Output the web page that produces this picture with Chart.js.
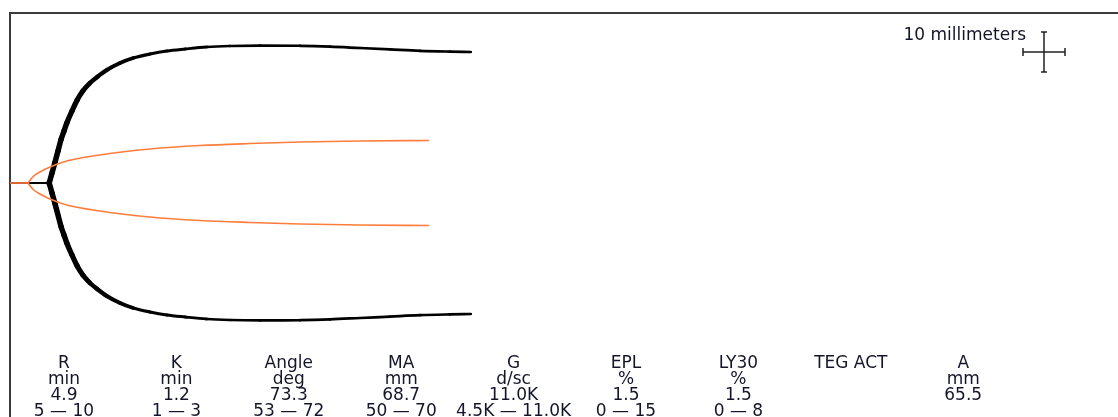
<!DOCTYPE html>
<html>
<head>
<meta charset="utf-8">
<title>TEG tracing</title>
<script src="https://cdn.jsdelivr.net/npm/chart.js@4/dist/chart.umd.min.js"></script>
<style>
  html, body { margin: 0; padding: 0; background: #fff; }
  #wrap { width: 1118px; height: 417px; }
</style>
</head>
<body>
<div id="wrap"><canvas id="teg" width="1118" height="417"></canvas></div>
<script>
// Kaolin sample tracing: time in minutes, amplitude in millimetres (full width)
const blackTime = [0, 4.9, 5.25, 5.6, 6.0, 6.4, 6.75, 7.1, 7.75, 8.4, 9.1, 10.0, 10.9, 12.1, 13.75, 15.4, 17.5, 19.6, 21.9, 24.6, 27.5, 31.25, 36.25, 40.0, 43.75, 47.5, 51.25, 55.0, 57.6];
const blackAmp  = [0, 0, 5, 10, 16, 22, 26, 30, 36, 41.5, 46, 50, 53, 56.5, 60, 62.5, 64.5, 66, 67, 68, 68.5, 68.7, 68.6, 68.2, 67.5, 66.8, 66.1, 65.7, 65.5];

// Second (reference) tracing
const orangeTime = [0, 2.25, 2.9, 3.75, 5.0, 7.1, 11.25, 17.5, 23.75, 30.0, 36.25, 43.75, 52.4];
const orangeAmp  = [0, 0, 3.25, 5.5, 8, 11, 14, 17, 18.75, 19.75, 20.5, 21, 21.25];

// Parameter table under the tracing
const paramNames  = ["R", "K", "Angle", "MA", "G", "EPL", "LY30", "TEG ACT", "A"];
const paramUnits  = ["min", "min", "deg", "mm", "d/sc", "%", "%", "", "mm"];
const paramValues = ["4.9", "1.2", "73.3", "68.7", "11.0K", "1.5", "1.5", "", "65.5"];
const paramRanges = ["5 \u2014 10", "1 \u2014 3", "53 \u2014 72", "50 \u2014 70", "4.5K \u2014 11.0K", "0 \u2014 15", "0 \u2014 8", "", ""];

const scaleLabel = "10 millimeters";
const scaleBarMm = 10;      // length of the calibration cross
const mmPerMinute = 2;      // chart speed

// points of one half of a tracing; `from`/`to` select the flat lead-in or the fork
function half(times, amps, sign, from, to) {
  return times.slice(from, to).map((t, i) => ({ x: t, y: sign * amps[from + i] / 2 }));
}

// Steep parts of the main trace are drawn heavier, like the recorder pen
function penWidth(ctx) {
  const dx = ctx.p1.x - ctx.p0.x, dy = ctx.p1.y - ctx.p0.y;
  const len = Math.hypot(dx, dy) || 1;
  return 2.6 + 3.0 * Math.abs(dy) / len;
}

const blackStyle = {
  borderColor: "#000000",
  borderWidth: 3,
  borderCapStyle: "round",
  borderJoinStyle: "round",
  pointRadius: 0,
  fill: false,
  cubicInterpolationMode: "monotone",
  segment: { borderWidth: penWidth },
  order: 2
};
const blackLead = {
  borderColor: "#000000",
  borderWidth: 2.2,
  pointRadius: 0,
  fill: false,
  order: 3
};
const orangeStyle = {
  borderColor: "#ff7d3c",
  borderWidth: 1.7,
  pointRadius: 0,
  fill: false,
  cubicInterpolationMode: "monotone",
  order: 0
};

const framePlugin = {
  id: "tegFrame",
  beforeDatasetsDraw(chart) {
    const { ctx, chartArea: a } = chart;
    ctx.save();
    ctx.strokeStyle = "#3c3c3c";
    ctx.lineWidth = 2;
    ctx.beginPath();
    ctx.moveTo(a.left, a.bottom + 2);
    ctx.lineTo(a.left, a.top);
    ctx.lineTo(a.right, a.top);
    ctx.stroke();
    ctx.restore();
  },
  afterDatasetsDraw(chart) {
    const { ctx, scales: { x, y } } = chart;
    ctx.save();
    // calibration cross
    const cx = x.getPixelForValue(129.25), cy = y.getPixelForValue(32.75);
    const hv = Math.abs(y.getPixelForValue(scaleBarMm / 2) - y.getPixelForValue(0));
    const hh = Math.abs(x.getPixelForValue(scaleBarMm / mmPerMinute / 2) - x.getPixelForValue(0)) + 1;
    ctx.strokeStyle = "#222";
    ctx.lineWidth = 1.5;
    ctx.beginPath();
    ctx.moveTo(cx, cy - hv); ctx.lineTo(cx, cy + hv);
    ctx.moveTo(cx - hh, cy); ctx.lineTo(cx + hh, cy);
    ctx.moveTo(cx - 3, cy - hv); ctx.lineTo(cx + 3, cy - hv);
    ctx.moveTo(cx - 3, cy + hv); ctx.lineTo(cx + 3, cy + hv);
    ctx.moveTo(cx - hh, cy - 4); ctx.lineTo(cx - hh, cy + 4);
    ctx.moveTo(cx + hh, cy - 4); ctx.lineTo(cx + hh, cy + 4);
    ctx.stroke();

    ctx.fillStyle = "#15152a";
    ctx.font = "17px 'DejaVu Sans', Verdana, sans-serif";
    ctx.textAlign = "right";
    ctx.textBaseline = "alphabetic";
    ctx.fillText(scaleLabel, cx - 18, 40);

    // parameter table
    ctx.textAlign = "center";
    const rows = [paramNames, paramUnits, paramValues, paramRanges];
    rows.forEach((row, r) => {
      row.forEach((txt, i) => {
        if (txt) ctx.fillText(txt, 64 + i * 112.4, 368 + r * 16);
      });
    });
    ctx.restore();
  }
};

new Chart(document.getElementById("teg"), {
  type: "line",
  data: {
    datasets: [
      Object.assign({ label: "trace baseline", data: half(blackTime, blackAmp, 1, 0, 2) }, blackLead),
      Object.assign({ label: "trace upper", data: half(blackTime, blackAmp, 1, 1) }, blackStyle),
      Object.assign({ label: "trace lower", data: half(blackTime, blackAmp, -1, 1) }, blackStyle),
      Object.assign({ label: "reference baseline", data: half(orangeTime, orangeAmp, 1, 0, 2) }, orangeStyle),
      Object.assign({ label: "reference upper", data: half(orangeTime, orangeAmp, 1, 1) }, orangeStyle),
      Object.assign({ label: "reference lower", data: half(orangeTime, orangeAmp, -1, 1) }, orangeStyle)
    ]
  },
  options: {
    responsive: false,
    animation: false,
    devicePixelRatio: 1,
    layout: { padding: { left: 10, top: 13, right: 0, bottom: 0 } },
    plugins: { legend: { display: false }, tooltip: { enabled: false } },
    scales: {
      x: { type: "linear", min: 0, max: 138.5, display: false },
      y: { type: "linear", min: -58.5, max: 42.5, display: false }
    }
  },
  plugins: [framePlugin]
});
</script>
</body>
</html>
